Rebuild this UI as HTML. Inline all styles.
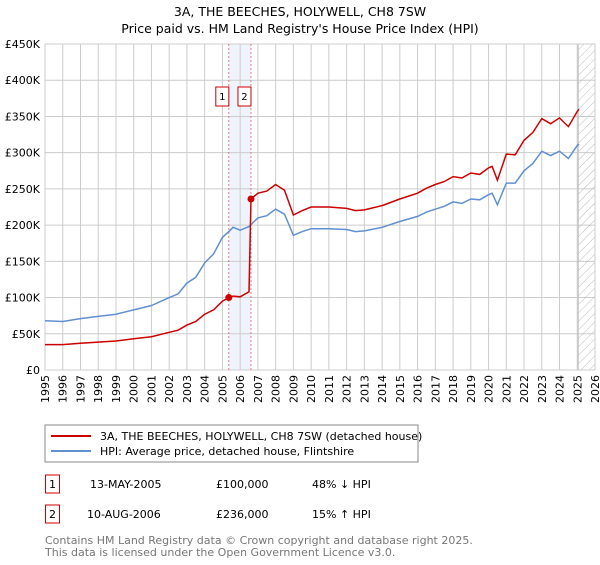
<!DOCTYPE html>
<html><head><meta charset="utf-8"><style>
body{margin:0;background:#fff;font-family:"Liberation Sans","DejaVu Sans",sans-serif;}
svg text{font-family:"DejaVu Sans","Liberation Sans",sans-serif;}
</style></head><body>
<svg id="c" width="600" height="560" xmlns="http://www.w3.org/2000/svg">
<defs><pattern id="hatch" width="6" height="6" patternUnits="userSpaceOnUse" patternTransform="rotate(45)"><line x1="0" y1="0" x2="0" y2="6" stroke="#bbb" stroke-width="1"/></pattern></defs>
<text x="300" y="16" text-anchor="middle" font-size="12.5">3A, THE BEECHES, HOLYWELL, CH8 7SW</text>
<text x="300" y="33" text-anchor="middle" font-size="12.5">Price paid vs. HM Land Registry's House Price Index (HPI)</text>
<g id="grid"></g><g id="marks"></g>
<rect x="45" y="425" width="373" height="37" fill="#fff" stroke="#888"/>
<line x1="51" y1="436" x2="91" y2="436" stroke="#cc0000" stroke-width="2"/>
<text x="100" y="440" font-size="11">3A, THE BEECHES, HOLYWELL, CH8 7SW (detached house)</text>
<line x1="51" y1="451" x2="91" y2="451" stroke="#6090d0" stroke-width="2"/>
<text x="100" y="455" font-size="11">HPI: Average price, detached house, Flintshire</text>
<g>
<rect x="45.5" y="475" width="14" height="18" fill="#fff" stroke="#cc0000"/><text x="52.5" y="488" text-anchor="middle" font-size="11">1</text>
<text x="90" y="488" font-size="11">13-MAY-2005</text><text x="216" y="488" font-size="11">£100,000</text><text x="312" y="488" font-size="11">48% ↓ HPI</text></g>
<g>
<rect x="45.5" y="505" width="14" height="18" fill="#fff" stroke="#cc0000"/><text x="52.5" y="518" text-anchor="middle" font-size="11">2</text>
<text x="87" y="518" font-size="11">10-AUG-2006</text><text x="216" y="518" font-size="11">£236,000</text><text x="312" y="518" font-size="11">15% ↑ HPI</text></g>
<text x="45" y="544" font-size="11" fill="#777">Contains HM Land Registry data © Crown copyright and database right 2025.</text>
<text x="45" y="556" font-size="11" fill="#777">This data is licensed under the Open Government Licence v3.0.</text>
</svg>
<script>
const hpiDates=[1995,1996,1997,1998,1999,2000,2001,2002,2002.5,2003,2003.5,2004,2004.5,2005,2005.4,2005.6,2006,2006.5,2007,2007.5,2008,2008.5,2009,2009.5,2010,2011,2012,2012.5,2013,2014,2015,2016,2016.5,2017,2017.5,2018,2018.5,2019,2019.5,2020,2020.2,2020.5,2021,2021.5,2022,2022.5,2023,2023.5,2024,2024.5,2025,2025.1];
const hpiValues=[68,67,71,74,77,83,89,100,105,120,128,148,160,183,192,197,193,198,210,213,222,215,186,191,195,195,194,191,192,197,205,212,218,222,226,232,230,236,235,242,244,228,258,258,275,285,302,296,302,292,310,312];
const redDates=[1995,1996,1997,1998,1999,2000,2001,2002,2002.5,2003,2003.5,2004,2004.5,2005,2005.36,2005.6,2006,2006.5,2006.61,2007,2007.5,2008,2008.5,2009,2009.5,2010,2011,2012,2012.5,2013,2014,2015,2016,2016.5,2017,2017.5,2018,2018.5,2019,2019.5,2020,2020.2,2020.5,2021,2021.5,2022,2022.5,2023,2023.5,2024,2024.5,2025,2025.1];
const redValues=[35,35,37,38.5,40,43,46,52,55,62,67,77,83,95,100,102,101,108,236,244,247,256,248,214,220,225,225,223,220,221,227,236,244,251,256,260,267,265,272,270,279,281,262,298,297,317,328,347,340,348,336,357,360];
const saleDates=[2005.36,2006.61];
const saleValues=[100,236];
const saleLabels=["1","2"];
const yTicks=[0,50,100,150,200,250,300,350,400,450];
const yTickLabels=["£0","£50K","£100K","£150K","£200K","£250K","£300K","£350K","£400K","£450K"];
const xTicks=[1995,1996,1997,1998,1999,2000,2001,2002,2003,2004,2005,2006,2007,2008,2009,2010,2011,2012,2013,2014,2015,2016,2017,2018,2019,2020,2021,2022,2023,2024,2025,2026];
const X0=45,X1=595,Y0=370,Y1=44;
const xs=d=>X0+(d-1995)/(2026-1995)*(X1-X0);
const ys=v=>Y0-v/450*(Y0-Y1);
const NS="http://www.w3.org/2000/svg";
function mk(p,t,a){const e=document.createElementNS(NS,t);for(const k in a)e.setAttribute(k,a[k]);p.appendChild(e);return e;}
const g=document.getElementById('grid'),m=document.getElementById('marks');
const bg=mk(g,'rect',{x:X0,y:Y1,width:X1-X0,height:Y0-Y1,fill:'#fff'});


const sh=mk(g,'rect',{x:xs(saleDates[0]),y:Y1,width:xs(saleDates[1])-xs(saleDates[0]),height:Y0-Y1,fill:'#eef3fc'});


xTicks.forEach(t=>{const l=mk(g,'line',{x1:xs(t),x2:xs(t),y1:Y1,y2:Y0,stroke:'#ccc'});


const px=xs(t)+4,py=Y0+5;
const tx=mk(g,'text',{x:px,y:py,'text-anchor':'end','font-size':11,transform:`rotate(-90 ${px} ${py})`});tx.textContent=t;

});
yTicks.forEach((t,i)=>{const l=mk(g,'line',{x1:X0,x2:X1,y1:ys(t),y2:ys(t),stroke:'#ccc'});


const tx=mk(g,'text',{x:X0-5,y:ys(t)+4,'text-anchor':'end','font-size':11});tx.textContent=yTickLabels[i];

});
const h=mk(g,'rect',{x:xs(2025.05),y:Y1,width:X1-xs(2025.05),height:Y0-Y1,fill:'url(#hatch)',stroke:'#bbb'});


mk(g,'rect',{x:X0,y:Y1,width:X1-X0,height:Y0-Y1,fill:'none',stroke:'#ccc'});
saleDates.forEach((d,i)=>{const l=mk(m,'line',{x1:xs(d),x2:xs(d),y1:Y1,y2:Y0,stroke:'#e06060','stroke-dasharray':'2,2','stroke-width':0.8});

});
const pts=(D,V)=>D.map((d,i)=>xs(d).toFixed(1)+','+ys(V[i]).toFixed(1)).join(' ');
const b=mk(m,'polyline',{points:pts(hpiDates,hpiValues),fill:'none',stroke:'#6090d0','stroke-width':1.5});


const r=mk(m,'polyline',{points:pts(redDates,redValues),fill:'none',stroke:'#cc0000','stroke-width':1.5});


saleDates.forEach((d,i)=>{const c=mk(m,'circle',{cx:xs(d),cy:ys(saleValues[i]),r:3.5,fill:'#cc0000'});


const rb=mk(m,'rect',{x:xs(d)-13,y:87,width:13,height:19,fill:'#fff',stroke:'#cc0000'});


const t=mk(m,'text',{x:xs(d)-6.5,y:100,'text-anchor':'middle','font-size':10});t.textContent=saleLabels[i];

});
</script>
</body></html>
